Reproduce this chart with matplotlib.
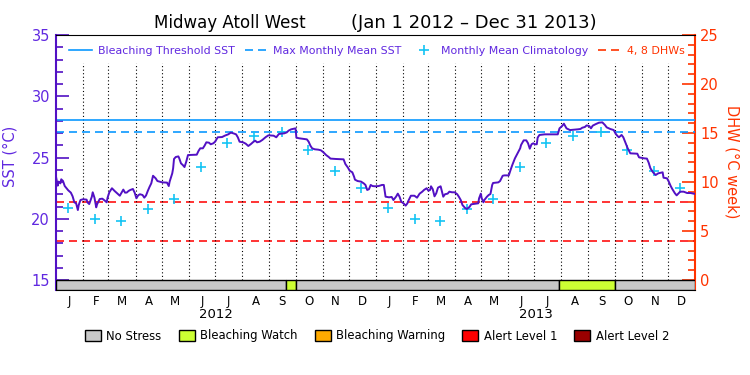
import datetime as dt
import matplotlib
matplotlib.use("Agg")
import matplotlib.pyplot as plt
import matplotlib.dates as mdates
from matplotlib.lines import Line2D
from matplotlib.patches import Patch, Rectangle
from matplotlib.ticker import FixedLocator

# ---------------- data ----------------
title_site = "Midway Atoll West"
title_period = "(Jan 1 2012 \u2013 Dec 31 2013)"
start_date = dt.date(2012, 1, 1)
end_date = dt.date(2014, 1, 1)

# day offset from Jan 1 2012, SST (deg C)
sst_day = [0, 2, 3, 5, 6, 8, 10, 12, 14, 17, 19, 21, 23, 25, 26, 28, 31, 35, 36, 38,
           41, 42, 44, 46, 47, 50, 53, 56, 58, 59, 61, 64, 67, 70, 73, 75, 77, 79, 81, 83,
           85, 88, 90, 92, 94, 96, 99, 101, 103, 105, 107, 109, 111, 114, 116, 120, 122, 127, 129, 130,
           133, 134, 135, 137, 140, 141, 143, 145, 147, 149, 151, 161, 163, 165, 168, 170, 172, 175, 177, 180,
           182, 185, 190, 193, 197, 200, 203, 206, 208, 210, 214, 217, 220, 223, 226, 228, 230, 233, 236, 240,
           243, 249, 252, 255, 258, 261, 264, 266, 269, 272, 274, 275, 278, 281, 284, 287, 289, 291, 293, 296,
           300, 303, 306, 309, 312, 314, 320, 329, 331, 334, 336, 339, 341, 342, 345, 349, 352, 354, 356, 358,
           360, 362, 365, 369, 373, 375, 377, 381, 384, 386, 389, 391, 393, 395, 398, 400, 402, 403, 406, 410,
           413, 416, 419, 421, 424, 426, 428, 429, 431, 433, 435, 437, 440, 442, 443, 445, 448, 450, 453, 456,
           459, 461, 463, 465, 468, 470, 473, 475, 480, 483, 484, 486, 487, 489, 490, 493, 495, 497, 499, 500,
           506, 508, 511, 513, 518, 520, 522, 525, 528, 531, 532, 535, 538, 540, 542, 544, 546, 548, 550, 551,
           553, 559, 574, 576, 579, 581, 584, 588, 593, 597, 600, 602, 605, 607, 610, 612, 614, 617, 621, 625,
           628, 630, 634, 638, 640, 642, 644, 647, 649, 651, 654, 656, 657, 665, 667, 673, 676, 678, 680, 683,
           686, 689, 694, 695, 699, 701, 703, 705, 708, 710, 714, 718, 722, 726, 730]
sst_val = [23.43, 22.70, 23.03, 22.89, 23.22, 23.08, 22.67, 22.49, 22.32, 22.13, 21.83, 21.34, 21.26, 20.71, 21.12, 21.53, 21.59, 21.56, 21.34, 21.20,
           21.80, 22.16, 21.72, 20.93, 21.18, 21.61, 21.64, 21.47, 21.34, 21.72, 22.16, 22.49, 22.27, 22.08, 21.88, 22.13, 22.38, 22.13, 22.14, 22.27,
           22.35, 22.43, 22.13, 21.67, 21.91, 22.00, 21.94, 21.72, 21.90, 22.27, 22.60, 22.89, 23.51, 23.30, 23.08, 23.00, 22.97, 22.95, 22.67, 23.03,
           23.71, 24.12, 24.88, 25.04, 25.09, 24.93, 24.52, 24.39, 24.22, 24.66, 25.20, 25.23, 25.53, 25.75, 25.75, 25.97, 26.24, 26.21, 26.08, 26.16,
           26.29, 26.65, 26.67, 26.78, 26.89, 27.03, 26.97, 26.89, 26.65, 26.29, 26.24, 26.13, 25.94, 26.10, 26.29, 26.37, 26.24, 26.29, 26.43, 26.67,
           26.81, 26.78, 26.65, 26.92, 26.95, 26.97, 27.05, 27.19, 27.30, 27.35, 27.38, 26.62, 26.57, 26.54, 26.51, 26.48, 26.29, 25.97, 25.75, 25.67,
           25.64, 25.59, 25.42, 25.20, 25.04, 24.91, 24.88, 24.85, 24.47, 24.17, 23.92, 23.79, 23.43, 23.19, 23.08, 23.03, 22.89, 22.76, 22.35, 22.41,
           22.76, 22.67, 22.65, 22.67, 22.76, 22.76, 21.80, 21.75, 21.78, 21.53, 21.80, 22.05, 21.80, 21.39, 21.23, 21.07, 21.26, 21.45, 21.88, 21.88,
           21.72, 22.05, 22.21, 22.35, 22.49, 22.29, 22.35, 22.65, 22.41, 21.83, 22.08, 22.54, 22.65, 22.08, 21.80, 22.00, 22.05, 22.21, 22.16, 22.16,
           22.00, 21.78, 21.53, 21.12, 20.88, 20.80, 20.96, 21.18, 21.23, 21.26, 21.67, 22.05, 21.67, 21.34, 21.53, 21.80, 21.94, 22.02, 22.76, 22.92,
           22.97, 23.08, 23.51, 23.54, 23.54, 23.98, 24.39, 24.93, 25.34, 25.75, 26.02, 26.40, 26.40, 26.16, 25.72, 26.08, 26.16, 26.08, 26.08, 26.62,
           26.84, 26.89, 26.89, 27.38, 27.57, 27.76, 27.38, 27.24, 27.27, 27.30, 27.33, 27.43, 27.49, 27.62, 27.57, 27.38, 27.60, 27.71, 27.84, 27.87,
           27.65, 27.46, 27.33, 27.24, 26.97, 26.78, 26.65, 26.84, 26.65, 26.29, 25.75, 25.48, 25.34, 25.31, 25.01, 24.93, 24.91, 24.58, 24.12, 23.79,
           23.57, 23.71, 23.79, 23.35, 23.30, 23.03, 22.70, 22.43, 22.08, 21.91, 22.21, 22.21, 22.10, 22.10, 22.04]

# monthly mean climatology (Jan..Dec), plotted mid-month each year
clim_sst = [20.90, 19.95, 19.80, 20.80, 21.60, 24.20, 26.15, 26.75, 27.08, 25.60, 23.90, 22.55]
clim_years = [2012, 2013]

mmm_sst = 27.06
threshold_sst = 28.06
dhw_levels = [4, 8]

status_start = ["2012-01-01", "2012-09-20", "2012-10-02", "2013-07-29", "2013-10-01"]
status_end = ["2012-09-20", "2012-10-02", "2013-07-29", "2013-10-01", "2014-01-01"]
status_level = ["No Stress", "Bleaching Watch", "No Stress", "Bleaching Watch", "No Stress"]

status_names = ["No Stress", "Bleaching Watch", "Bleaching Warning", "Alert Level 1", "Alert Level 2"]
status_colors = ["#c8c8c8", "#ccff33", "#ffaa00", "#ff0000", "#990000"]

month_letters = ["J", "F", "M", "A", "M", "J", "J", "A", "S", "O", "N", "D"]
years = [2012, 2013]

sst_ticks = [15, 20, 25, 30, 35]
dhw_ticks = [0, 5, 10, 15, 20, 25]

# ---------------- style ----------------
PURPLE_LINE = "#5210c4"
PURPLE_TXT = "#6028e0"
ORANGE = "#ff3300"
RED = "#ff1111"
BLUE = "#0a98ff"
CYAN = "#14c4f4"

W, H = 750, 375
fig = plt.figure(figsize=(7.5, 3.75), dpi=100)
ax_l, ax_r, ax_t, ax_b = 56, 695, 35, 290
ax = fig.add_axes([ax_l / W, 1 - ax_b / H, (ax_r - ax_l) / W, (ax_b - ax_t) / H])
ax2 = ax.twinx()
ax.set_zorder(ax2.get_zorder() + 1)
ax.patch.set_visible(False)

sst_px = 12.25  # pixels per degC
dhw_px = 9.8
ax.set_ylim(15 - 10 / sst_px, 35)
ax2.set_ylim(-10 / dhw_px, 25)

d0 = mdates.date2num(start_date)
d1 = mdates.date2num(end_date)
ax.set_xlim(d0, d1)

# month boundary dotted lines
bounds = []
for y in years:
    for m in range(1, 13):
        d = dt.date(y, m, 1)
        if d != start_date:
            bounds.append(mdates.date2num(d))
ax.vlines(bounds, 15, 32.7, colors="black", linestyles=(0, (1, 2.2)), linewidth=0.8, zorder=1)

# reference lines
ax.axhline(threshold_sst, color=BLUE, lw=1.2, zorder=2)
ax.axhline(mmm_sst, color=BLUE, lw=1.2, ls=(0, (4.8, 3)), zorder=2)
for lv in dhw_levels:
    ax2.axhline(lv, color=RED, lw=1.2, ls=(0, (4.8, 3)))

# climatology
clim_x = []
clim_y = []
for y in clim_years:
    for m in range(12):
        clim_x.append(mdates.date2num(dt.date(y, m + 1, 15)))
        clim_y.append(clim_sst[m])
ax.plot(clim_x, clim_y, ls="none", marker="+", ms=7, mew=1.2, color=CYAN, zorder=3)

# SST
sst_x = [d0 + d for d in sst_day]
ax.plot(sst_x, sst_val, color=PURPLE_LINE, lw=1.4, zorder=4)

# status bar
ybot = ax.get_ylim()[0]
for s, e, lvl in zip(status_start, status_end, status_level):
    xs = mdates.date2num(dt.date.fromisoformat(s))
    xe = mdates.date2num(dt.date.fromisoformat(e))
    ax.add_patch(Rectangle((xs, ybot), xe - xs, 15 - ybot,
                           facecolor=status_colors[status_names.index(lvl)],
                           edgecolor="black", lw=1.0, zorder=6))

# axes styling
for sp in ["top", "bottom"]:
    ax.spines[sp].set_color("black")
ax.spines["left"].set_color(PURPLE_LINE)
ax.spines["left"].set_linewidth(1.5)
ax.spines["right"].set_visible(False)
ax2.spines["right"].set_color(ORANGE)
ax2.spines["right"].set_linewidth(1.5)
ax2.spines["left"].set_visible(False)
ax2.spines["top"].set_visible(False)
ax2.spines["bottom"].set_visible(False)

ax.yaxis.set_major_locator(FixedLocator(sst_ticks))
ax.yaxis.set_minor_locator(FixedLocator(list(range(16, 35))))
ax.set_yticklabels([str(t) for t in sst_ticks])
ax.tick_params(axis="y", which="major", direction="in", length=9.4, width=1.2,
               color=PURPLE_LINE, labelcolor=PURPLE_TXT, labelsize=10.5, pad=4.3)
ax.tick_params(axis="y", which="minor", direction="in", length=5, width=1.2, color=PURPLE_LINE)

ax2.yaxis.set_major_locator(FixedLocator(dhw_ticks))
ax2.yaxis.set_minor_locator(FixedLocator(list(range(1, 25))))
ax2.set_yticklabels([str(t) for t in dhw_ticks])
ax2.tick_params(axis="y", which="major", direction="in", length=9.4, width=1.2,
                color=ORANGE, labelcolor=ORANGE, labelsize=10.5, pad=3.6)
ax2.tick_params(axis="y", which="minor", direction="in", length=5, width=1.2, color=ORANGE)

# month letters
mid_months = []
mlabels = []
for y in years:
    for m in range(12):
        a = dt.date(y, m + 1, 1)
        b = dt.date(y + (m == 11), (m + 1) % 12 + 1, 1)
        mid_months.append((mdates.date2num(a) + mdates.date2num(b)) / 2)
        mlabels.append(month_letters[m])
ax.set_xticks(mid_months)
ax.set_xticklabels(mlabels)
ax.tick_params(axis="x", which="both", length=0, labelsize=8.5, pad=3.5, labelcolor="black")
ax2.tick_params(axis="x", length=0)

for y in years:
    mid = (mdates.date2num(dt.date(y, 1, 1)) + mdates.date2num(dt.date(y + 1, 1, 1))) / 2
    ax.annotate(str(y), xy=(mid, 0), xycoords=("data", "axes fraction"),
                xytext=(0, -24), textcoords="offset pixels",
                ha="center", va="center", fontsize=9.5, color="black")

ax.set_ylabel("SST (\u00b0C)", color=PURPLE_TXT, fontsize=10.5)
ax.yaxis.set_label_coords((17 - ax_l) / (ax_r - ax_l), (ax_b - 156) / (ax_b - ax_t))
ax2.set_ylabel("DHW (\u00b0C week)", color=ORANGE, fontsize=10.5, rotation=270, va="center")
ax2.yaxis.set_label_coords((732 - ax_l) / (ax_r - ax_l), (ax_b - 162) / (ax_b - ax_t))

# title
fig.text(229.5 / W, 1 - 23 / H, title_site, ha="center", va="center", fontsize=12, color="black")
fig.text(474 / W, 1 - 23 / H, title_period, ha="center", va="center", fontsize=13, color="black")

# top legend
handles = [Line2D([], [], color=BLUE, lw=1.2),
           Line2D([], [], color=BLUE, lw=1.2, ls=(0, (4.8, 3))),
           Line2D([], [], ls="none", marker="+", ms=7, mew=1.2, color=CYAN),
           Line2D([], [], color=ORANGE, lw=1.2, ls=(0, (4.8, 3)))]
labels = ["Bleaching Threshold SST", "Max Monthly Mean SST", "Monthly Mean Climatology", "4, 8 DHWs"]
leg = ax.legend(handles, labels, ncol=4, loc="center",
                bbox_to_anchor=((377 - ax_l) / (ax_r - ax_l), (ax_b - 51) / (ax_b - ax_t)),
                frameon=False, fontsize=7.9, handlelength=2.1, handletextpad=0.5,
                columnspacing=0.95, borderpad=0, borderaxespad=0)
for t, c in zip(leg.get_texts(), [PURPLE_TXT, PURPLE_TXT, PURPLE_TXT, ORANGE]):
    t.set_color(c)

# bottom status legend
phandles = [Patch(facecolor=c, edgecolor="black", lw=1) for c in status_colors]
fig.legend(phandles, status_names, ncol=5, loc="center",
           bbox_to_anchor=(377 / W, 1 - 336 / H), frameon=False, fontsize=8.4,
           handlelength=1.4, handleheight=1.0, handletextpad=0.45, columnspacing=1.45,
           borderpad=0, borderaxespad=0)

fig.savefig("out.png", dpi=100)
